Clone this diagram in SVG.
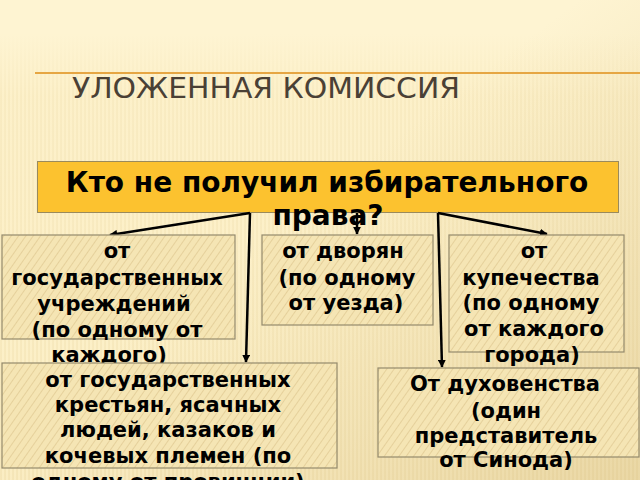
<svg xmlns="http://www.w3.org/2000/svg" width="640" height="480" viewBox="0 0 640 480">
<defs>
<pattern id="vstripe" width="4" height="10" patternUnits="userSpaceOnUse">
<rect width="4" height="10" fill="#fcefc6"/>
<line x1="1" y1="0" x2="1" y2="10" stroke="#e9d59f" stroke-width="1" opacity="0.6"/>
</pattern>
<pattern id="hatch" width="6" height="6" patternUnits="userSpaceOnUse" patternTransform="rotate(35)">
<rect width="6" height="6" fill="#f5e5b4"/>
<line x1="0" y1="0" x2="0" y2="6" stroke="#e5d09b" stroke-width="2"/>
</pattern>
<linearGradient id="fadeTop" x1="0" y1="0" x2="0" y2="1">
<stop offset="0" stop-color="#fef4d2" stop-opacity="1"/>
<stop offset="0.07" stop-color="#fef4d2" stop-opacity="1"/>
<stop offset="0.2" stop-color="#fef4d2" stop-opacity="0.3"/>
<stop offset="1" stop-color="#fef4d2" stop-opacity="0"/>
</linearGradient>
<linearGradient id="shade" x1="0" y1="0" x2="1" y2="1">
<stop offset="0.45" stop-color="#c9ac68" stop-opacity="0"/>
<stop offset="1" stop-color="#c9ac68" stop-opacity="0.35"/>
</linearGradient>
<marker id="arr" viewBox="0 0 10 10" refX="9" refY="5" markerWidth="3.2" markerHeight="3.2" orient="auto" markerUnits="strokeWidth">
<path d="M0,0 L10,5 L0,10 z" fill="#000"/>
</marker>
<style>
.box{fill:url(#hatch);stroke:#948a6d;stroke-width:1.2}
.t{font-family:"DejaVu Sans",Verdana,sans-serif;font-weight:bold;font-size:21px;fill:#000;text-anchor:middle}
.h{font-size:28px}
.conn{stroke:#000;stroke-width:2.5;fill:none;marker-end:url(#arr)}
</style>
</defs>
<g id="background">
<rect width="640" height="480" fill="url(#vstripe)"/>
<rect width="640" height="480" fill="url(#fadeTop)"/>
<rect width="640" height="480" fill="url(#shade)"/>
<line x1="35" y1="73" x2="640" y2="73" stroke="#e6a643" stroke-width="2"/>
<text x="72" y="98" font-family="DejaVu Sans,Verdana,sans-serif" font-size="28" fill="#4a4035" textLength="388" lengthAdjust="spacingAndGlyphs">УЛОЖЕННАЯ КОМИССИЯ</text>
</g>
<g id="top">
<rect x="37.5" y="161.5" width="581" height="51" fill="#fcc22f" stroke="#9a8a5c" stroke-width="1"/>
<text class="t h" x="327" y="192">Кто не получил избирательного</text>
<text class="t h" x="328" y="225">права?</text>
</g>
<g id="connectors">
<line class="conn" x1="250" y1="213" x2="110" y2="235"/>
<line class="conn" x1="250" y1="213" x2="246" y2="362"/>
<line class="conn" x1="357" y1="213" x2="357" y2="234"/>
<line class="conn" x1="438" y1="213" x2="442" y2="367"/>
<line class="conn" x1="438" y1="213" x2="547" y2="234"/>
</g>
<g id="n1">
<rect class="box" x="2" y="235" width="233" height="104"/>
<text class="t" x="117" y="258">от</text>
<text class="t" x="117" y="285">государственных</text>
<text class="t" x="114" y="311">учреждений</text>
<text class="t" x="117" y="337">(по одному от</text>
<text class="t" x="109" y="362">каждого)</text>
</g>
<g id="n2">
<rect class="box" x="262" y="235" width="171" height="90"/>
<text class="t" x="343" y="258">от дворян</text>
<text class="t" x="347" y="285">(по одному</text>
<text class="t" x="346" y="310">от уезда)</text>
</g>
<g id="n3">
<rect class="box" x="449" y="235" width="175" height="117"/>
<text class="t" x="534" y="258">от</text>
<text class="t" x="531" y="285">купечества</text>
<text class="t" x="531" y="310">(по одному</text>
<text class="t" x="534" y="336">от каждого</text>
<text class="t" x="532" y="362">города)</text>
</g>
<g id="n4">
<rect class="box" x="2" y="363" width="335" height="105"/>
<text class="t" x="168" y="387">от государственных</text>
<text class="t" x="168" y="412">крестьян, ясачных</text>
<text class="t" x="168" y="437">людей, казаков и</text>
<text class="t" x="168" y="463">кочевых племен (по</text>
<text class="t" x="168" y="489">одному от провинции)</text>
</g>
<g id="n5">
<rect class="box" x="378" y="368" width="261" height="89"/>
<text class="t" x="505" y="391">От духовенства</text>
<text class="t" x="506" y="418">(один</text>
<text class="t" x="506" y="443">представитель</text>
<text class="t" x="506" y="467">от Синода)</text>
</g>
</svg>
